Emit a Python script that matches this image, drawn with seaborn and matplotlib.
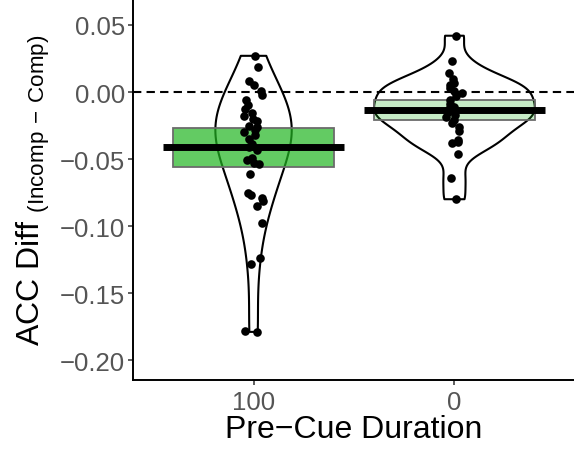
import numpy as np
import pandas as pd
import matplotlib
matplotlib.use("Agg")
import matplotlib.pyplot as plt
import seaborn as sns
from matplotlib.ticker import FuncFormatter

# ---- data ----
categories = ["100", "0"]
acc_100 = [0.027, 0.019, 0.008, 0.005, 0.001, -0.002, -0.006, -0.010, -0.013,
           -0.016, -0.018, -0.020, -0.022, -0.025, -0.026, -0.028, -0.030,
           -0.032, -0.035, -0.039, -0.041, -0.043, -0.049, -0.051, -0.053,
           -0.054, -0.061, -0.075, -0.077, -0.079, -0.081, -0.085, -0.098,
           -0.124, -0.128, -0.178, -0.179]
acc_0 = [0.042, 0.023, 0.014, 0.010, 0.007, 0.005, 0.003, 0.001, -0.001,
         -0.003, -0.006, -0.009, -0.011, -0.013, -0.015, -0.017, -0.019,
         -0.021, -0.023, -0.026, -0.029, -0.036, -0.037, -0.038, -0.046,
         -0.064, -0.080]
group_mean = [-0.0413, -0.0132]
group_se = [0.0146, 0.0075]
box_alpha = [0.70, 0.25]
yticks = [0.05, 0.00, -0.05, -0.10, -0.15, -0.20]

df = pd.DataFrame({
    "dur": ["100"] * len(acc_100) + ["0"] * len(acc_0),
    "acc": acc_100 + acc_0,
})

sns.set_style("white")
plt.rcParams["font.family"] = ["Liberation Sans", "DejaVu Sans"]
plt.rcParams["mathtext.fontset"] = "custom"
plt.rcParams["mathtext.rm"] = "Liberation Sans"

fig = plt.figure(figsize=(5.74, 4.52), dpi=100)
ax = fig.add_axes([133 / 574, 1 - 381 / 452, 442 / 574, 381 / 452])

# violins (per-group bandwidth / width so each outline matches)
violin_bw = {"100": 1.05, "0": 0.62}
violin_w = {"100": 0.38, "0": 0.80}
for cat in categories:
    sns.violinplot(data=df[df["dur"] == cat], x="dur", y="acc", order=categories,
                   inner=None, cut=0, fill=False, color="black", linewidth=1.5,
                   bw_adjust=violin_bw[cat], width=violin_w[cat], ax=ax)

ax.axhline(0, color="black", lw=1.5, ls=(0, (4, 2.5)), zorder=2)

pos = np.arange(len(categories))
means = np.array(group_mean)
ses = np.array(group_se)
green = (0.13, 0.71, 0.13)
faces = [green + (a,) for a in box_alpha]
ax.bar(pos, 2 * ses, bottom=means - ses, width=0.8, color=faces,
       edgecolor="#6b6b6b", linewidth=1.3, zorder=3)

np.random.seed(3)
sns.stripplot(data=df, x="dur", y="acc", order=categories, color="black",
              size=6.2, jitter=0.05, linewidth=0, ax=ax, zorder=4)

ax.hlines(means, pos - 0.45, pos + 0.45, color="black", lw=5, zorder=5)

ax.set_xlim(-0.6, 1.6)
ax.set_ylim(-0.2149, 0.0694)
ax.set_yticks(yticks)
ax.yaxis.set_major_formatter(FuncFormatter(lambda v, p: f"{v:.2f}".replace("-", "\u2212")))

for s in ["top", "right"]:
    ax.spines[s].set_visible(False)
for s in ["left", "bottom"]:
    ax.spines[s].set_linewidth(1.4)
    ax.spines[s].set_color("black")

ax.tick_params(axis="both", which="major", length=3.5, width=1.1,
               color="#333333", labelcolor="#555555", labelsize=18.5,
               direction="out", left=True, bottom=True)
ax.tick_params(axis="y", pad=2)
ax.tick_params(axis="x", pad=4)

ax.set_xlabel("Pre\u2212Cue Duration", fontsize=23, color="black", labelpad=0)
ax.set_ylabel(r"ACC Diff $_{\mathrm{(Incomp}\,-\,\mathrm{Comp)}}$", fontsize=23,
              color="black", labelpad=6)

fig.savefig("out.png", dpi=100)
